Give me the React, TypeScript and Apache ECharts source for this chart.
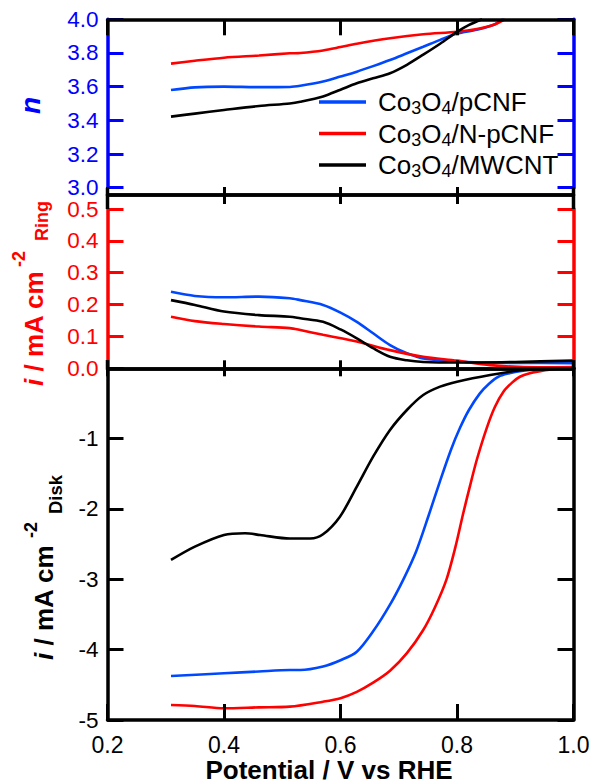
import React, { useEffect, useRef } from 'react';
import * as echarts from 'echarts';

// ---------------- data ----------------
const xTicks = [0.2, 0.4, 0.6, 0.8, 1.0];
const seriesNames = ['Co3O4/pCNF', 'Co3O4/N-pCNF', 'Co3O4/MWCNT'];

// electron transfer number n vs potential
const nBlue = [[0.309, 3.58], [0.35, 3.596], [0.40, 3.60], [0.46, 3.597], [0.513, 3.598], [0.531, 3.605], [0.57, 3.63], [0.60, 3.66], [0.628, 3.689], [0.656, 3.722], [0.685, 3.758], [0.714, 3.798], [0.742, 3.837], [0.771, 3.878], [0.80, 3.915], [0.834, 3.938], [0.862, 3.966], [0.879, 4.0]];
const nRed = [[0.309, 3.737], [0.35, 3.754], [0.40, 3.772], [0.46, 3.785], [0.513, 3.798], [0.531, 3.80], [0.57, 3.815], [0.60, 3.835], [0.628, 3.855], [0.685, 3.887], [0.742, 3.911], [0.80, 3.926], [0.834, 3.942], [0.862, 3.966], [0.882, 4.0]];
const nBlack = [[0.309, 3.422], [0.35, 3.44], [0.40, 3.461], [0.46, 3.485], [0.513, 3.50], [0.531, 3.51], [0.57, 3.542], [0.60, 3.582], [0.628, 3.62], [0.656, 3.65], [0.685, 3.68], [0.714, 3.73], [0.742, 3.79], [0.771, 3.855], [0.80, 3.925], [0.82, 3.965], [0.843, 4.0]];

// ring current (mA cm-2)
const ringBlue = [[0.309, 0.240], [0.35, 0.227], [0.40, 0.223], [0.46, 0.225], [0.513, 0.220], [0.531, 0.214], [0.57, 0.199], [0.60, 0.175], [0.628, 0.146], [0.656, 0.110], [0.685, 0.073], [0.714, 0.047], [0.742, 0.031], [0.80, 0.021], [0.85, 0.018], [0.90, 0.017], [1.0, 0.016]];
const ringRed = [[0.309, 0.162], [0.35, 0.148], [0.40, 0.139], [0.46, 0.131], [0.513, 0.126], [0.531, 0.12], [0.57, 0.105], [0.628, 0.084], [0.685, 0.057], [0.742, 0.036], [0.80, 0.024], [0.857, 0.010], [0.94, 0.003], [1.0, 0.004]];
const ringBlack = [[0.309, 0.214], [0.35, 0.199], [0.40, 0.178], [0.46, 0.167], [0.513, 0.162], [0.531, 0.157], [0.57, 0.146], [0.60, 0.122], [0.628, 0.094], [0.656, 0.063], [0.685, 0.036], [0.714, 0.025], [0.742, 0.020], [0.80, 0.018], [0.90, 0.020], [1.0, 0.024]];

// disk current (mA cm-2)
const diskBlue = [[0.309, -4.375], [0.40, -4.336], [0.46, -4.31], [0.513, -4.29], [0.531, -4.29], [0.57, -4.24], [0.60, -4.15], [0.628, -4.03], [0.656, -3.74], [0.685, -3.36], [0.708, -3.0], [0.73, -2.6], [0.751, -2.1], [0.771, -1.6], [0.79, -1.15], [0.805, -0.85], [0.82, -0.6], [0.839, -0.36], [0.855, -0.22], [0.871, -0.12], [0.89, -0.07], [0.908, -0.04], [0.95, -0.01], [1.0, 0.01]];
const diskRed = [[0.309, -4.787], [0.35, -4.80], [0.40, -4.834], [0.46, -4.82], [0.513, -4.81], [0.57, -4.74], [0.60, -4.69], [0.628, -4.60], [0.656, -4.47], [0.685, -4.30], [0.714, -4.05], [0.742, -3.72], [0.762, -3.40], [0.782, -3.0], [0.797, -2.55], [0.811, -2.05], [0.823, -1.65], [0.834, -1.30], [0.851, -0.85], [0.865, -0.55], [0.88, -0.33], [0.895, -0.2], [0.908, -0.12], [0.925, -0.07], [0.943, -0.04], [0.97, -0.01], [1.0, 0.0]];
const diskBlack = [[0.309, -2.725], [0.35, -2.536], [0.40, -2.37], [0.436, -2.346], [0.462, -2.37], [0.513, -2.42], [0.548, -2.42], [0.57, -2.36], [0.599, -2.11], [0.628, -1.683], [0.656, -1.257], [0.685, -0.877], [0.714, -0.593], [0.742, -0.38], [0.771, -0.261], [0.80, -0.19], [0.857, -0.095], [0.914, -0.024], [1.0, 0.02]];

const nTicks = [3.0, 3.2, 3.4, 3.6, 3.8, 4.0];
const ringTicks = [0.0, 0.1, 0.2, 0.3, 0.4, 0.5];
const diskTicks = [-5, -4, -3, -2, -1, 0];

// ---------------- styles ----------------
const FONT = 'Liberation Sans, Arial, Helvetica, sans-serif';
const BLUE_AXIS = '#0000ff';
const RED = '#ff0000';
const BLACK = '#000000';
const LINE_COLORS = ['#0048ff', '#ff0000', '#000000'];
const AXIS_W = 3.5;
const TICK_W = 3;

const GL = 107.5;
const GR = 18.5;

function xAxis(gridIndex: number, position: string, tickLen: number, extra: any = {}) {
  return {
    type: 'value',
    gridIndex,
    position,
    min: xTicks[0],
    max: xTicks[xTicks.length - 1],
    interval: xTicks[1] - xTicks[0],
    axisLine: { show: true, onZero: false, lineStyle: { color: BLACK, width: AXIS_W } },
    axisTick: { show: true, inside: true, length: tickLen, lineStyle: { color: BLACK, width: TICK_W } },
    axisLabel: { show: false },
    splitLine: { show: false },
    z: 5,
    ...extra,
  };
}

function yAxis(gridIndex: number, position: string, ticks: number[], color: string, showLabel: boolean, fmt: (v: number) => string, pad: number[] = [0, 0, 0, 0]) {
  return {
    type: 'value',
    gridIndex,
    position,
    min: ticks[0],
    max: ticks[ticks.length - 1],
    interval: +(ticks[1] - ticks[0]).toFixed(3),
    axisLine: { show: true, onZero: false, lineStyle: { color, width: AXIS_W } },
    axisTick: { show: true, inside: true, length: 16, lineStyle: { color, width: TICK_W } },
    axisLabel: { show: showLabel, color, fontSize: 22.5, lineHeight: 20, padding: pad, fontFamily: FONT, margin: 9, formatter: fmt },
    splitLine: { show: false },
    z: 3,
  };
}

const richName = (name: string) => '{a|' + name.replace(/(\d)/g, '}{s|$1}{a|') + '}';

function lineSeries(name: string, data: number[][], color: string, xi: number, yi: number) {
  return {
    type: 'line',
    name,
    data,
    xAxisIndex: xi,
    yAxisIndex: yi,
    color,
    showSymbol: false,
    smooth: 0.3,
    lineStyle: { color, width: 2.6 },
    z: 2,
  };
}

function vText(x: number, y: number, text: string, color: string, size: number, italic = false, align = 'left') {
  return {
    type: 'text',
    x,
    y,
    rotation: Math.PI / 2,
    z: 50,
    style: {
      text,
      fill: color,
      fontSize: size,
      fontWeight: 'bold',
      fontStyle: italic ? 'italic' : 'normal',
      fontFamily: FONT,
      align,
      verticalAlign: 'middle',
    },
  };
}

function vRich(x: number, y: number, color: string) {
  return {
    type: 'text',
    x,
    y,
    rotation: Math.PI / 2,
    z: 50,
    style: {
      text: '{i|i}{b| / mA cm}',
      fill: color,
      fontFamily: FONT,
      align: 'left',
      verticalAlign: 'middle',
      rich: {
        i: { fontSize: 26, fontWeight: 'bold', fontStyle: 'italic', fontFamily: FONT, fill: color },
        b: { fontSize: 26, fontWeight: 'bold', fontFamily: FONT, fill: color },
      },
    },
  };
}

function vSeg(x: number, y1: number, y2: number) {
  return { type: 'line', z: 60, shape: { x1: x, y1, x2: x, y2 }, style: { stroke: BLACK, lineWidth: AXIS_W } };
}

const option: any = {
  animation: false,
  backgroundColor: '#ffffff',
  textStyle: { fontFamily: FONT },
  grid: [
    { left: GL, right: GR, top: 19.3, height: 168.4, outerBoundsMode: 'none' },
    { left: GL, right: GR, top: 209, height: 159.3, outerBoundsMode: 'none' },
    { left: GL, right: GR, top: 368.3, height: 351.7, outerBoundsMode: 'none' },
  ],
  xAxis: [
    xAxis(0, 'top', 16),
    xAxis(0, 'bottom', 8, { offset: 7.3 }),
    xAxis(1, 'top', 9, { offset: 14 }),
    xAxis(1, 'bottom', 8),
    xAxis(2, 'top', 8),
    xAxis(2, 'bottom', 16, {
      axisLabel: { show: true, color: BLACK, fontSize: 23, fontFamily: FONT, margin: 13, formatter: (v: number) => v.toFixed(1) },
    }),
  ],
  yAxis: [
    yAxis(0, 'left', nTicks, BLUE_AXIS, true, (v: number) => v.toFixed(1), [0, 0, 2, 0]),
    yAxis(0, 'right', nTicks, BLUE_AXIS, false, (v: number) => ''),
    yAxis(1, 'left', ringTicks, RED, true, (v: number) => v.toFixed(1), [2, 0, 0, 0]),
    yAxis(1, 'right', ringTicks, RED, false, (v: number) => ''),
    yAxis(2, 'left', diskTicks, BLACK, true, (v: number) => (v === 0 ? '' : String(v))),
    yAxis(2, 'right', diskTicks, BLACK, false, (v: number) => ''),
  ],
  legend: {
    orient: 'vertical',
    left: 319,
    top: 89,
    padding: 0,
    itemGap: 3.5,
    itemWidth: 47,
    itemHeight: 3.5,
    icon: 'rect',
    selectedMode: false,
    data: seriesNames,
    formatter: (name: string) => richName(name),
    textStyle: {
      color: BLACK,
      fontFamily: FONT,
      fontSize: 26,
      padding: [0, 0, 0, 7],
      rich: {
        a: { fontSize: 26, lineHeight: 30, verticalAlign: 'middle', fontFamily: FONT, color: BLACK },
        s: { fontSize: 18, lineHeight: 16, verticalAlign: 'bottom', fontFamily: FONT, color: BLACK },
      },
    },
  },
  series: [
    lineSeries(seriesNames[0], nBlue, LINE_COLORS[0], 1, 0),
    lineSeries(seriesNames[1], nRed, LINE_COLORS[1], 1, 0),
    lineSeries(seriesNames[2], nBlack, LINE_COLORS[2], 1, 0),
    lineSeries(seriesNames[0], ringBlue, LINE_COLORS[0], 3, 2),
    lineSeries(seriesNames[1], ringRed, LINE_COLORS[1], 3, 2),
    lineSeries(seriesNames[2], ringBlack, LINE_COLORS[2], 3, 2),
    lineSeries(seriesNames[0], diskBlue, LINE_COLORS[0], 5, 4),
    lineSeries(seriesNames[1], diskRed, LINE_COLORS[1], 5, 4),
    lineSeries(seriesNames[2], diskBlack, LINE_COLORS[2], 5, 4),
  ],
  graphic: [
    vSeg(GL, 187.7, 209),
    vSeg(592 - GR, 187.7, 209),
    vSeg(GL, 360, 368.3),
    vSeg(592 - GR, 360, 368.3),
    vText(30, 105.5, 'n', BLUE_AXIS, 28, true, 'center'),
    vRich(34, 386, RED),
    vText(19, 267, '-2', RED, 18),
    vText(42, 241, 'Ring', RED, 18),
    vRich(44, 660, BLACK),
    vText(31, 538, '-2', BLACK, 18),
    vText(55.5, 514, 'Disk', BLACK, 18.5),
    {
      type: 'text',
      x: 329,
      y: 770,
      z: 50,
      style: {
        text: 'Potential / V vs RHE',
        fill: BLACK,
        fontSize: 26,
        fontWeight: 'bold',
        fontFamily: FONT,
        align: 'center',
        verticalAlign: 'middle',
      },
    },
  ],
};

export default function App() {
  const ref = useRef<HTMLDivElement>(null);
  useEffect(() => {
    document.body.style.margin = '0';
    const chart = echarts.init(ref.current as HTMLDivElement, null, { renderer: 'svg' });
    chart.setOption(option);
    return () => chart.dispose();
  }, []);
  return <div ref={ref} style={{ width: 592, height: 784, background: '#ffffff' }} />;
}
